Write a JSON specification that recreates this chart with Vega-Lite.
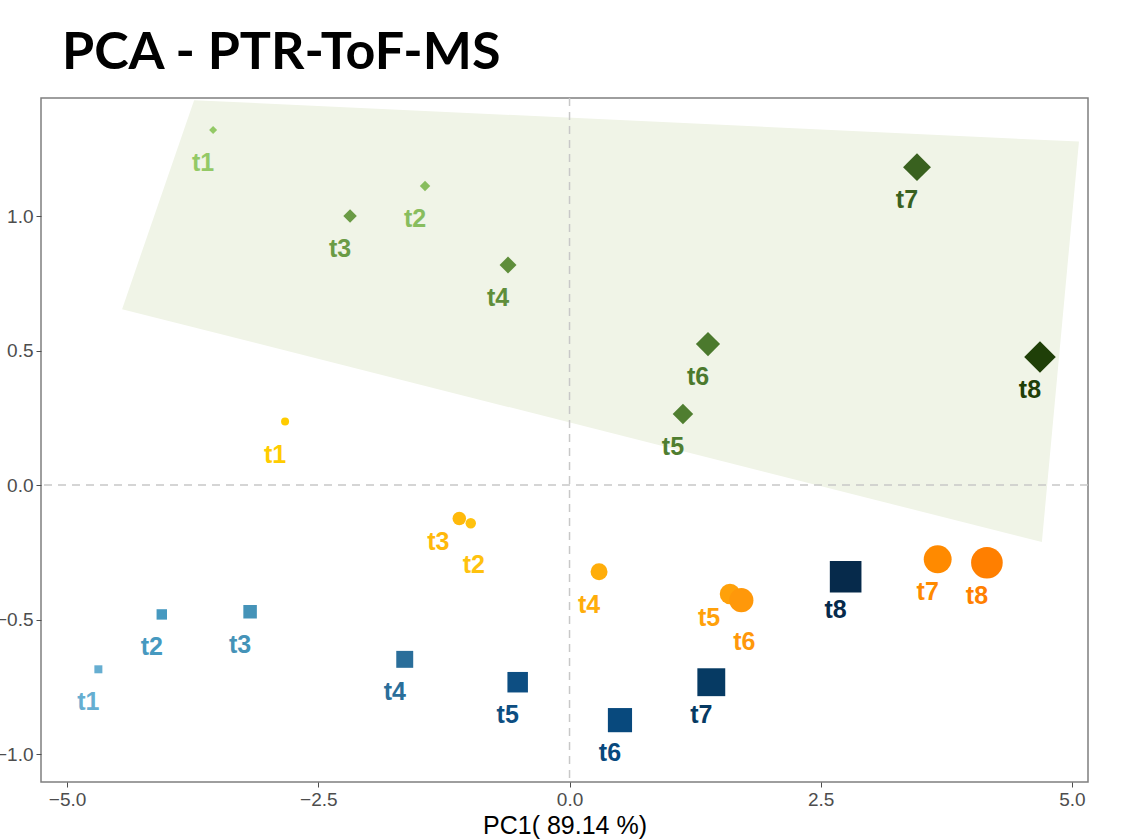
{
  "$schema": "https://vega.github.io/schema/vega-lite/v6.json",
  "width": 1047,
  "height": 684,
  "autosize": "none",
  "padding": {"left": 41, "top": 98, "right": 44, "bottom": 57},
  "background": "white",
  "title": {"text": "PCA - PTR-ToF-MS", "anchor": "start", "frame": "group", "dx": 21, "offset": 17, "fontSize": 52, "font": "Lato", "fontWeight": "bold", "color": "black"},
  "config": {
    "view": {"stroke": "#7f7f7f", "strokeWidth": 1.5},
    "axis": {"grid": false, "domain": false, "tickColor": "#4d4d4d", "tickSize": 5, "labelColor": "#4d4d4d", "labelFont": "Liberation Sans", "labelFontSize": 19, "titleFont": "Liberation Sans", "titleFontSize": 25, "titleFontWeight": "normal", "titleColor": "black"}
  },
  "datasets": {
    "pts": [
      {"id": "A-t1", "group": "A", "time": "t1", "tn": 1, "pc1": -3.547, "pc2": 1.320},
      {"id": "A-t2", "group": "A", "time": "t2", "tn": 2, "pc1": -1.438, "pc2": 1.112},
      {"id": "A-t3", "group": "A", "time": "t3", "tn": 3, "pc1": -2.184, "pc2": 1.000},
      {"id": "A-t4", "group": "A", "time": "t4", "tn": 4, "pc1": -0.612, "pc2": 0.818},
      {"id": "A-t5", "group": "A", "time": "t5", "tn": 5, "pc1": 1.129, "pc2": 0.264},
      {"id": "A-t6", "group": "A", "time": "t6", "tn": 6, "pc1": 1.378, "pc2": 0.524},
      {"id": "A-t7", "group": "A", "time": "t7", "tn": 7, "pc1": 3.458, "pc2": 1.182},
      {"id": "A-t8", "group": "A", "time": "t8", "tn": 8, "pc1": 4.682, "pc2": 0.476},
      {"id": "B-t1", "group": "B", "time": "t1", "tn": 1, "pc1": -2.831, "pc2": 0.236},
      {"id": "B-t2", "group": "B", "time": "t2", "tn": 2, "pc1": -0.983, "pc2": -0.142},
      {"id": "B-t3", "group": "B", "time": "t3", "tn": 3, "pc1": -1.097, "pc2": -0.124},
      {"id": "B-t4", "group": "B", "time": "t4", "tn": 4, "pc1": 0.294, "pc2": -0.322},
      {"id": "B-t5", "group": "B", "time": "t5", "tn": 5, "pc1": 1.597, "pc2": -0.405},
      {"id": "B-t6", "group": "B", "time": "t6", "tn": 6, "pc1": 1.710, "pc2": -0.428},
      {"id": "B-t7", "group": "B", "time": "t7", "tn": 7, "pc1": 3.664, "pc2": -0.276},
      {"id": "B-t8", "group": "B", "time": "t8", "tn": 8, "pc1": 4.154, "pc2": -0.289},
      {"id": "C-t1", "group": "C", "time": "t1", "tn": 1, "pc1": -4.689, "pc2": -0.685},
      {"id": "C-t2", "group": "C", "time": "t2", "tn": 2, "pc1": -4.058, "pc2": -0.481},
      {"id": "C-t3", "group": "C", "time": "t3", "tn": 3, "pc1": -3.179, "pc2": -0.471},
      {"id": "C-t4", "group": "C", "time": "t4", "tn": 4, "pc1": -1.640, "pc2": -0.648},
      {"id": "C-t5", "group": "C", "time": "t5", "tn": 5, "pc1": -0.516, "pc2": -0.733},
      {"id": "C-t6", "group": "C", "time": "t6", "tn": 6, "pc1": 0.502, "pc2": -0.874},
      {"id": "C-t7", "group": "C", "time": "t7", "tn": 7, "pc1": 1.411, "pc2": -0.733},
      {"id": "C-t8", "group": "C", "time": "t8", "tn": 8, "pc1": 2.748, "pc2": -0.341}
    ],
    "hull": [
      {"v": 1, "pc1": -3.736, "pc2": 1.431},
      {"v": 2, "pc1": 5.070, "pc2": 1.277},
      {"v": 3, "pc1": 4.701, "pc2": -0.212},
      {"v": 4, "pc1": -4.453, "pc2": 0.654}
    ],
    "zero": [{"z": 0}]
  },
  "encoding": {
    "x": {"field": "pc1", "type": "quantitative", "scale": {"domain": [-5.26, 5.16], "nice": false, "zero": false}, "axis": {"values": [-5, -2.5, 0, 2.5, 5], "format": ".1f", "title": "PC1( 89.14 %)", "titlePadding": 4, "labelPadding": 3}},
    "y": {"field": "pc2", "type": "quantitative", "scale": {"domain": [-1.104, 1.439], "nice": false, "zero": false}, "axis": {"values": [-1, -0.5, 0, 0.5, 1], "format": ".1f", "title": null, "labelPadding": 3}}
  },
  "layer": [
    {
      "data": {"name": "hull"},
      "mark": {"type": "line", "fill": "#f0f4e7", "stroke": "#f0f4e7", "strokeWidth": 0, "clip": true},
      "encoding": {"order": {"field": "v", "type": "quantitative"}}
    },
    {
      "data": {"name": "zero"},
      "mark": {"type": "rule", "color": "#c8c8c8", "strokeDash": [8, 6], "strokeWidth": 1.5},
      "encoding": {"x": {"field": "z", "type": "quantitative"}, "y": null}
    },
    {
      "data": {"name": "zero"},
      "mark": {"type": "rule", "color": "#c8c8c8", "strokeDash": [8, 6], "strokeWidth": 1.5},
      "encoding": {"y": {"field": "z", "type": "quantitative"}, "x": null}
    },
    {
      "data": {"name": "pts"},
      "mark": {"type": "point", "filled": true, "opacity": 1},
      "encoding": {
        "shape": {"field": "group", "type": "nominal", "scale": {"domain": ["A", "B", "C"], "range": ["diamond", "circle", "square"]}, "legend": null},
        "color": {"field": "id", "type": "nominal", "legend": null, "scale": {
          "domain": ["A-t1","A-t2","A-t3","A-t4","A-t5","A-t6","A-t7","A-t8","B-t1","B-t2","B-t3","B-t4","B-t5","B-t6","B-t7","B-t8","C-t1","C-t2","C-t3","C-t4","C-t5","C-t6","C-t7","C-t8"],
          "range": ["#93c966","#88bd5e","#6a9b45","#5f8e3b","#4f7e30","#4b792d","#39611f","#1f3f08","#ffcc00","#ffc20e","#ffb90a","#ffad0a","#ffa10a","#ff980a","#ff8a00","#ff7f00","#66aed1","#4699c0","#4593b8","#2a6e9a","#0d4e82","#08497d","#063a63","#062a4b"]}},
        "size": {"field": "tn", "type": "quantitative", "legend": null, "scale": {"type": "pow", "exponent": 2, "domain": [1, 8], "range": [64, 1000], "zero": false}}
      }
    },
    {
      "data": {"name": "pts"},
      "transform": [{"filter": "!(datum.group == 'B' && (datum.time == 't2' || datum.time == 't3' || datum.time == 't5' || datum.time == 't6'))"}],
      "mark": {"type": "text", "dx": -10, "dy": 33, "font": "Liberation Sans", "fontWeight": "bold", "fontSize": 25, "baseline": "middle", "align": "center"},
      "encoding": {"text": {"field": "time"}, "color": {"field": "id", "type": "nominal", "legend": null}}
    },
    {
      "data": {"name": "pts"},
      "transform": [{"filter": "datum.group == 'B' && (datum.time == 't3' || datum.time == 't5')"}],
      "mark": {"type": "text", "dx": -21, "dy": 24, "font": "Liberation Sans", "fontWeight": "bold", "fontSize": 25, "baseline": "middle", "align": "center"},
      "encoding": {"text": {"field": "time"}, "color": {"field": "id", "type": "nominal", "legend": null}}
    },
    {
      "data": {"name": "pts"},
      "transform": [{"filter": "datum.group == 'B' && (datum.time == 't2' || datum.time == 't6')"}],
      "mark": {"type": "text", "dx": 3, "dy": 42, "font": "Liberation Sans", "fontWeight": "bold", "fontSize": 25, "baseline": "middle", "align": "center"},
      "encoding": {"text": {"field": "time"}, "color": {"field": "id", "type": "nominal", "legend": null}}
    }
  ]
}
